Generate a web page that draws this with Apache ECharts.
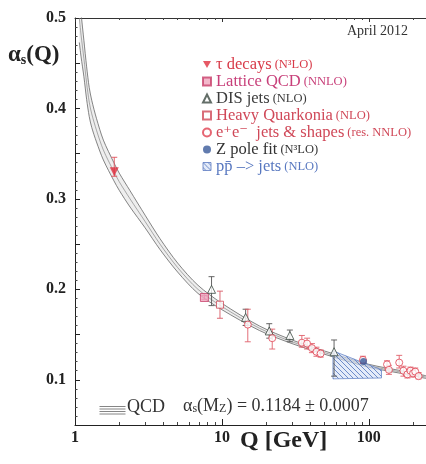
<!DOCTYPE html>
<html><head><meta charset="utf-8">
<script src="https://cdn.jsdelivr.net/npm/echarts@6/dist/echarts.min.js"></script>
<style>html,body{margin:0;padding:0;background:#fff}#c{width:426px;height:464px}</style>
</head><body><div id="c"></div>
<script>
// ---- tick labels ----
const xTicks = ['1', '10', '100'];
const yTicks = ['0.1', '0.2', '0.3', '0.4', '0.5'];

// ---- QCD running band ----
const qcdQ   = [1.07, 1.1, 1.15, 1.2, 1.25, 1.3, 1.4, 1.56, 1.84, 2.0, 2.37, 3.0, 3.79, 5.0, 6.87, 10, 18, 30, 50, 100, 160, 245];
const qcdMid = [0.500, 0.481, 0.455, 0.428, 0.407, 0.394, 0.376, 0.354, 0.330, 0.319, 0.300, 0.275, 0.250, 0.224, 0.200, 0.181, 0.157, 0.142, 0.130, 0.1155, 0.109, 0.103];
const qcdUp  = [0.527, 0.505, 0.475, 0.446, 0.423, 0.409, 0.389, 0.365, 0.340, 0.3285, 0.309, 0.282, 0.256, 0.229, 0.2045, 0.1845, 0.1595, 0.144, 0.1318, 0.1171, 0.1105, 0.1045];
const qcdLow = [0.473, 0.457, 0.435, 0.410, 0.391, 0.379, 0.363, 0.343, 0.320, 0.3095, 0.291, 0.268, 0.244, 0.219, 0.1955, 0.1775, 0.1545, 0.140, 0.1282, 0.1139, 0.1075, 0.1015];

// ---- measurements ----
const tauQ = [1.85], tauVal = [0.330], tauLo = [0.325], tauHi = [0.346];
const latQ = [7.6], latVal = [0.191], latLo = [0.189], latHi = [0.193];
const disQ = [8.5, 14.5, 21, 29, 58];
const disVal = [0.200, 0.169, 0.154, 0.149, 0.131];
const disLo = [0.182, 0.160, 0.146, 0.142, 0.104];
const disHi = [0.214, 0.178, 0.162, 0.155, 0.144];
const hqQ = [9.7], hqVal = [0.183], hqLo = [0.168], hqHi = [0.198];
const eeQ   = [15, 22, 35, 38, 41, 44, 47, 91.2, 133, 137, 161, 172, 183, 192, 200, 207, 218];
const eeVal = [0.161, 0.146, 0.141, 0.140, 0.135, 0.131, 0.129, 0.122, 0.117, 0.111, 0.119, 0.110, 0.106, 0.110, 0.107, 0.109, 0.104];
const eeLo  = [0.142, 0.134, 0.136, 0.134, 0.130, 0.126, 0.125, 0.118, 0.112, 0.106, 0.113, 0.104, 0.102, 0.105, 0.103, 0.104, 0.101];
const eeHi  = [0.178, 0.156, 0.149, 0.146, 0.140, 0.136, 0.133, 0.126, 0.121, 0.116, 0.127, 0.115, 0.111, 0.114, 0.111, 0.113, 0.108];
const zQ = [92], zVal = [0.1202], zLo = [0.1185], zHi = [0.1219];
const ppQ = [57, 122], ppHigh = [0.132, 0.111], ppLow = [0.101, 0.102];

// ---- legend texts ----
const legNames = ['tau', 'lat', 'dis', 'hq', 'ee', 'z', 'pp'];
const legMain = ['τ decays', 'Lattice QCD', 'DIS jets', 'Heavy Quarkonia', 'e⁺e⁻  jets & shapes', 'Z pole fit', 'pp̄ –> jets'];
const legSub = ['(N³LO)', '(NNLO)', '(NLO)', '(NLO)', '(res. NNLO)', '(N³LO)', '(NLO)'];
const legColor = ['#d83a48', '#c8407a', '#3c3c3c', '#d04858', '#d04858', '#333333', '#5878c0'];

const SERIF = '"Liberation Serif","DejaVu Serif",serif';

// hatch pattern
const pc = document.createElement('canvas'); pc.width = 5; pc.height = 5;
const g = pc.getContext('2d');
g.fillStyle = 'rgba(210,222,245,0.6)'; g.fillRect(0, 0, 5, 5);
g.strokeStyle = '#6080c4'; g.lineWidth = 0.9; g.beginPath();
g.moveTo(0, 0); g.lineTo(5, 5); g.moveTo(-1, 4); g.lineTo(1, 6); g.moveTo(4, -1); g.lineTo(6, 1); g.stroke();
const hatch = { image: pc, repeat: 'repeat' };

function zip(a, b) { return a.map((v, i) => [v, b[i]]); }
function zip3(a, b, c) { return a.map((v, i) => [v, b[i], c[i]]); }

function errSeries(name, Q, lo, hi, color) {
  return {
    type: 'custom', name: name, silent: true, z: 4,
    encode: { x: 0, y: [1, 2] },
    data: zip3(Q, lo, hi),
    renderItem: function (params, api) {
      const x = api.value(0);
      const p1 = api.coord([x, api.value(1)]), p2 = api.coord([x, api.value(2)]);
      const w = 3;
      const st = { stroke: color, lineWidth: 0.9 };
      return { type: 'group', children: [
        { type: 'line', shape: { x1: p1[0], y1: p1[1], x2: p2[0], y2: p2[1] }, style: st },
        { type: 'line', shape: { x1: p1[0] - w, y1: p1[1], x2: p1[0] + w, y2: p1[1] }, style: st },
        { type: 'line', shape: { x1: p2[0] - w, y1: p2[1], x2: p2[0] + w, y2: p2[1] }, style: st }
      ]};
    }
  };
}

const rich = {};
legNames.forEach((n, i) => {
  rich['m' + i] = { fontFamily: SERIF, fontSize: 16.5, color: legColor[i], lineHeight: 19 };
  rich['s' + i] = { fontFamily: SERIF, fontSize: 12.5, color: legColor[i], lineHeight: 19 };
});

const chart = echarts.init(document.getElementById('c'), null, { renderer: 'canvas' });
const lineStyleBand = { color: '#666', width: 0.8 };

chart.setOption({
  animation: false,
  backgroundColor: '#fff',
  grid: { left: 75, top: 18, right: 0, bottom: 39 },
  xAxis: [{
    type: 'log', logBase: 10, min: 1, max: 245, position: 'bottom',
    axisLine: { show: true, lineStyle: { color: '#222', width: 1 } },
    axisTick: { show: true, inside: true, length: 6, lineStyle: { color: '#222' } },
    minorTick: { show: true, splitNumber: 9, length: 3, lineStyle: { color: '#444' } },
    splitLine: { show: false },
    axisLabel: {
      showMaxLabel: false, margin: 5, color: '#222', fontFamily: SERIF, fontWeight: 'bold', fontSize: 16,
      formatter: v => xTicks.find(t => Math.abs(+t - v) < 1e-6) || ''
    }
  }, {
    type: 'log', logBase: 10, min: 1, max: 245, position: 'top',
    axisLine: { show: true, lineStyle: { color: '#333', width: 1 } },
    axisTick: { show: true, inside: true, length: 4, lineStyle: { color: '#333' } },
    minorTick: { show: true, splitNumber: 9, length: 2, lineStyle: { color: '#444' } },
    axisLabel: { show: false }, splitLine: { show: false }
  }],
  yAxis: {
    type: 'value', min: 0.05, max: 0.5, interval: 0.05,
    axisLine: { show: true, lineStyle: { color: '#222', width: 1 } },
    axisTick: { show: true, inside: true, length: 5, lineStyle: { color: '#222' } },
    minorTick: { show: true, splitNumber: 5, length: 2.5, lineStyle: { color: '#444' } },
    splitLine: { show: false },
    axisLabel: {
      margin: 9, color: '#222', fontFamily: SERIF, fontWeight: 'bold', fontSize: 16,
      formatter: v => yTicks.find(t => Math.abs(+t - v) < 1e-6) || ''
    }
  },
  legend: {
    orient: 'vertical', left: 197, top: 51, itemWidth: 8, itemHeight: 8, itemGap: 0,
    data: legNames.map(n => n === 'pp'
      ? { name: n, icon: 'rect', itemStyle: { color: hatch, borderColor: '#5a7ac0', borderWidth: 0.8 } }
      : n === 'tau' ? { name: n, icon: 'path://M0,0L10,0L5,9Z' } : { name: n }),
    formatter: n => { const i = legNames.indexOf(n); return '{m' + i + '|' + legMain[i] + '} {s' + i + '|' + legSub[i] + '}'; },
    textStyle: { fontFamily: SERIF, rich: rich, padding: [0, 0, 0, 0] },
    selectedMode: false
  },
  series: [
    {
      type: 'custom', name: 'band', silent: true, clip: true, z: 1,
      data: [[1.5, 0.3]],
      renderItem: function (params, api) {
        const pts = [];
        for (let i = 0; i < qcdQ.length; i++) pts.push(api.coord([qcdQ[i], qcdUp[i]]));
        for (let i = qcdQ.length - 1; i >= 0; i--) pts.push(api.coord([qcdQ[i], qcdLow[i]]));
        return { type: 'polygon', shape: { points: pts, smooth: 0.2 }, style: { fill: 'rgba(150,150,150,0.16)' } };
      }
    },
    { type: 'line', name: 'qcdUp', data: zip(qcdQ, qcdUp), symbol: 'none', smooth: 0.3, lineStyle: lineStyleBand, silent: true, z: 2 },
    { type: 'line', name: 'qcdMid', data: zip(qcdQ, qcdMid), symbol: 'none', smooth: 0.3, lineStyle: { color: '#888', width: 0.7 }, silent: true, z: 2 },
    { type: 'line', name: 'qcdLow', data: zip(qcdQ, qcdLow), symbol: 'none', smooth: 0.3, lineStyle: lineStyleBand, silent: true, z: 2 },
    {
      type: 'custom', name: 'pp', silent: true, z: 3,
      itemStyle: { color: hatch },
      data: [[ppQ[0], ppLow[0]]],
      renderItem: function (params, api) {
        const pts = [
          api.coord([ppQ[0], ppHigh[0]]), api.coord([ppQ[1], ppHigh[1]]),
          api.coord([ppQ[1], ppLow[1]]), api.coord([ppQ[0], ppLow[0]])
        ];
        return { type: 'polygon', shape: { points: pts }, style: { fill: hatch, stroke: '#6a88c8', lineWidth: 0.8 } };
      }
    },
    errSeries('tauErr', tauQ, tauLo, tauHi, '#e0505a'),
    errSeries('latErr', latQ, latLo, latHi, '#c8407a'),
    errSeries('disErr', disQ, disLo, disHi, '#555'),
    errSeries('hqErr', hqQ, hqLo, hqHi, '#d85a66'),
    errSeries('eeErr', eeQ, eeLo, eeHi, '#e0606a'),
    errSeries('zErr', zQ, zLo, zHi, '#3a5a9a'),
    { type: 'scatter', name: 'tau', data: zip(tauQ, tauVal), symbol: 'triangle', symbolRotate: 180, symbolSize: 9,
      itemStyle: { color: '#e0303e' }, z: 5 },
    { type: 'scatter', name: 'lat', data: zip(latQ, latVal), symbol: 'rect', symbolSize: 8,
      itemStyle: { color: '#f0a6be', borderColor: '#c8406a', borderWidth: 1 }, z: 5 },
    { type: 'scatter', name: 'dis', data: zip(disQ, disVal), symbol: 'triangle', symbolSize: 8,
      itemStyle: { color: '#fff', borderColor: '#3c4a42', borderWidth: 1 }, z: 5 },
    { type: 'scatter', name: 'hq', data: zip(hqQ, hqVal), symbol: 'rect', symbolSize: 7,
      itemStyle: { color: '#fff', borderColor: '#d04858', borderWidth: 1 }, z: 5 },
    { type: 'scatter', name: 'ee', data: zip(eeQ, eeVal), symbol: 'circle', symbolSize: 7,
      itemStyle: { color: '#fff', borderColor: '#e04050', borderWidth: 1 }, z: 5 },
    { type: 'scatter', name: 'z', data: zip(zQ, zVal), symbol: 'circle', symbolSize: 7,
      itemStyle: { color: '#3a5a9a' }, z: 6 }
  ],
  graphic: [
    { type: 'text', left: 8, top: 44, style: {
      text: '{a|α}{s|s}{a|(Q)}', fill: '#222',
      rich: { a: { fontFamily: SERIF, fontWeight: 'bold', fontSize: 23, lineHeight: 26, verticalAlign: 'bottom' },
              s: { fontFamily: SERIF, fontWeight: 'bold', fontSize: 14, lineHeight: 14, verticalAlign: 'bottom' } } } },
    { type: 'text', left: 240, top: 429, style: { text: 'Q [GeV]', fill: '#222', font: 'bold 24px ' + SERIF } },
    { type: 'text', left: 347, top: 24, style: { text: 'April 2012', fill: '#333', font: '14px ' + SERIF } },
    { type: 'group', left: 97, top: 404, children: [
      { type: 'line', shape: { x1: 0, y1: 0, x2: 26, y2: 0 }, style: { stroke: '#666', lineWidth: 0.8 } },
      { type: 'line', shape: { x1: 0, y1: 2.5, x2: 26, y2: 2.5 }, style: { stroke: '#666', lineWidth: 0.8 } },
      { type: 'line', shape: { x1: 0, y1: 5, x2: 26, y2: 5 }, style: { stroke: '#666', lineWidth: 0.8 } },
      { type: 'line', shape: { x1: 0, y1: 7.5, x2: 26, y2: 7.5 }, style: { stroke: '#666', lineWidth: 0.8 } }
    ] },
    { type: 'text', left: 127, top: 398, style: { text: 'QCD', fill: '#333', font: '18px ' + SERIF } },
    { type: 'text', left: 183, top: 397, style: {
      text: '{a|α}{s|s}{a|(M}{s|Z}{a|) = 0.1184 ± 0.0007}', fill: '#333',
      rich: { a: { fontFamily: SERIF, fontSize: 18, lineHeight: 22, verticalAlign: 'bottom' },
              s: { fontFamily: SERIF, fontSize: 12, lineHeight: 12, verticalAlign: 'bottom' } } } }
  ]
});
</script>
</body></html>
